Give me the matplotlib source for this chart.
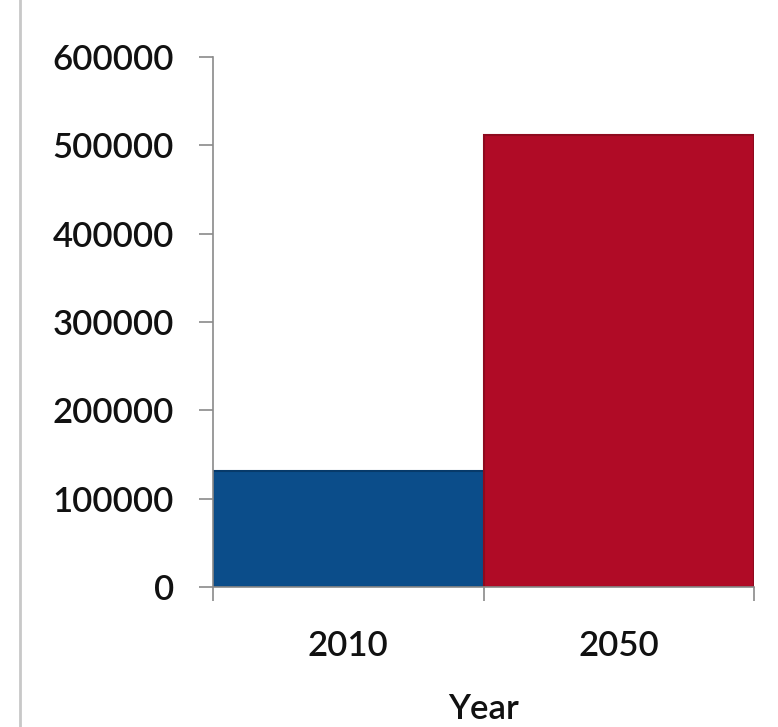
import matplotlib.pyplot as plt
from matplotlib.lines import Line2D

# Datos de la grafica
years = ["2010", "2050"]
values = [131000, 512000]
colors = ["#0b4d8a", "#b00b26"]
edges = ["#073a6a", "#8e0a1e"]
y_ticks = [0, 100000, 200000, 300000, 400000, 500000, 600000]

plt.rcParams["font.family"] = ["Lato", "DejaVu Sans"]
plt.rcParams["font.weight"] = "semibold"

fig = plt.figure(figsize=(7.78, 7.27), dpi=100)
ax = fig.add_axes([213 / 778, 1 - 587 / 727, (754 - 213) / 778, (587 - 57) / 727])

pos = list(range(len(years)))
ax.bar(pos, values, width=1.0, color=colors, edgecolor=edges, linewidth=1.5)

ax.set_xlim(-0.5, len(years) - 0.5)
ax.set_ylim(0, 600000)
ax.set_yticks(y_ticks)
ax.set_yticklabels([str(v) for v in y_ticks])
ax.set_xticks(pos)
ax.set_xticklabels(years)
# marcas del eje x en los limites de cada categoria
ax.set_xticks([p - 0.5 for p in pos] + [pos[-1] + 0.5], minor=True)

for s in ["top", "right"]:
    ax.spines[s].set_visible(False)
for s in ["left", "bottom"]:
    ax.spines[s].set_color("#8a8a8a")
    ax.spines[s].set_linewidth(1.2)

ax.tick_params(axis="y", length=10, width=1.2, color="#8a8a8a", pad=18,
               labelsize=25, labelcolor="#111111")
ax.tick_params(axis="x", which="major", length=0, pad=31,
               labelsize=25, labelcolor="#111111")
ax.tick_params(axis="x", which="minor", length=10, width=1.2, color="#8a8a8a")

ax.set_xlabel("Year", fontsize=25, fontweight="semibold", color="#111111", labelpad=22)

# linea gris del borde izquierdo
fig.add_artist(Line2D([20 / 778, 20 / 778], [0, 1], color="#c8c8c8", linewidth=2))

fig.savefig("out.png", dpi=100)
